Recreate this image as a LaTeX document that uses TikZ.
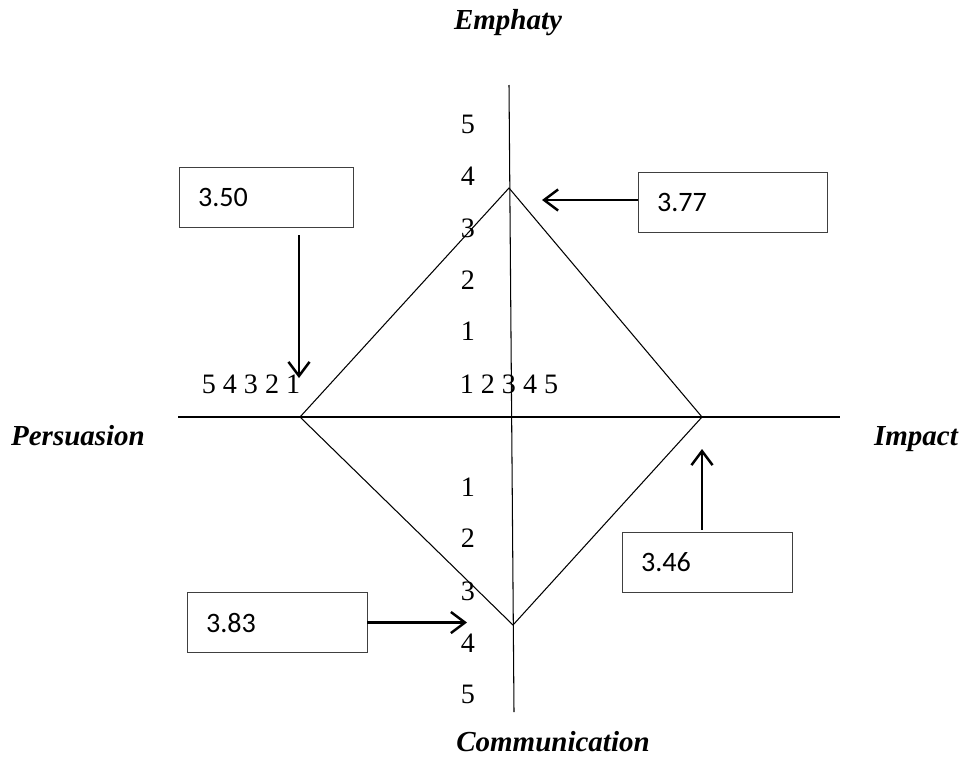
\documentclass[tikz,border=0pt]{standalone}
\usepackage{fontspec}
\setmainfont{Liberation Serif}
\newfontfamily\boxfont{Carlito}
\usetikzlibrary{arrows.meta}

\tikzset{
  >={Straight Barb[length=8pt,width=12pt]},
  axislabel/.style={font=\fontsize{16.5}{19}\selectfont\bfseries\itshape, anchor=base},
  ticklabel/.style={font=\fontsize{16}{19}\selectfont, anchor=base, inner sep=0pt},
  valbox/.style={draw=black!75, line width=0.5pt, font=\boxfont\fontsize{16}{19}\selectfont,
    minimum height=1.2cm, inner xsep=0.38cm, text width=#1, align=left},
  valarrow/.style={->, line width=1.4pt}
}

\begin{document}
\begin{tikzpicture}[x=0.02cm, y=-0.02cm]
  \useasboundingbox (0,0) rectangle (963,761);
  % axes
  \coordinate (atop) at (509,85);
  \coordinate (abot) at (514,712);
  \coordinate (aleft) at (178,417);
  \coordinate (aright) at (840,417);
  \draw[line width=0.6pt] (aleft) -- (aright);
  \draw[line width=0.6pt] (atop) -- (abot);
  % diamond
  \coordinate (dN) at (509,188);
  \coordinate (dW) at (300,417);
  \coordinate (dE) at (702,417);
  \coordinate (dS) at (513,625);
  \draw[line width=0.6pt] (dN) -- (dE) -- (dS) -- (dW) -- cycle;
  % axis names
  \node[axislabel] (emp) at (508,29) {Emphaty};
  \node[axislabel] (com) at (553,751) {Communication};
  \node[axislabel] (per) at (78,445) {Persuasion};
  \node[axislabel] (imp) at (916,445) {Impact};
  % scale numbers
  \foreach \y/\t in {133/5,185/4,237/3,289/2,340/1} {\node[ticklabel] (up\t) at (468,\y) {\t};}
  \foreach \y/\t in {496/1,547/2,600/3,652/4,703/5} {\node[ticklabel] (lo\t) at (468,\y) {\t};}
  \node[ticklabel] (hleft) at (251,393) {5 4 3 2 1};
  \node[ticklabel] (hright) at (509,393) {1 2 3 4 5};
  % values
  \node[valbox=2.72cm] (v350) at (266,197.5) {3.50};
  \node[valbox=3.02cm] (v377) at (732.5,202) {3.77};
  \node[valbox=2.64cm] (v346) at (707,562.5) {3.46};
  \node[valbox=2.84cm] (v383) at (277,622.5) {3.83};
  \coordinate (t350) at (299,378);
  \coordinate (t377) at (542,200);
  \coordinate (t346) at (702,449);
  \coordinate (t383) at (467,622.5);
  \draw[valarrow, shorten <=3\pgflinewidth] (v350.south -| t350) -- (t350);
  \draw[valarrow] (v377.west |- t377) -- (t377);
  \draw[valarrow, shorten <=1\pgflinewidth] (v346.north -| t346) -- (t346);
  \draw[valarrow] (v383.east) -- (t383);
\end{tikzpicture}
\end{document}
